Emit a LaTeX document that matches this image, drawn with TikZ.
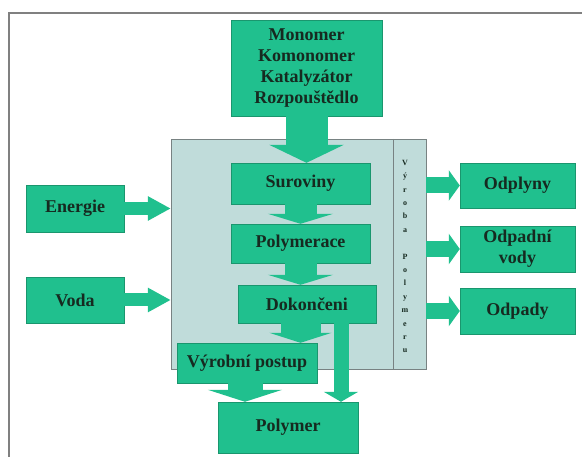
\documentclass[tikz,border=0pt]{standalone}
\usepackage{fontspec}
\setmainfont{Liberation Serif}
\usetikzlibrary{arrows.meta}

\definecolor{boxgreen}{RGB}{32,192,142}
\definecolor{boxedge}{RGB}{26,150,110}
\definecolor{procfill}{RGB}{192,220,218}
\definecolor{procedge}{RGB}{120,130,130}
\definecolor{labeltext}{RGB}{22,42,32}

\tikzset{
  gbox/.style={draw=boxedge,fill=boxgreen,inner sep=0pt,align=center,
    text=labeltext,font=\fontsize{18}{21}\selectfont\bfseries},
  flow/.style args={#1/#2/#3}{draw=boxgreen,line width=#1pt,
    -{Triangle[width=#2pt,length=#3pt]}}
}

\begin{document}
\begin{tikzpicture}[x=1pt,y=-1pt]
\useasboundingbox[fill=white] (0,0) rectangle (582,457);
\draw[gray,line width=2pt] (9,457) -- (9,13) -- (582,13);

\node[draw=procedge,fill=procfill,minimum width=255pt,minimum height=230pt] (proc) at (298.5,254) {};
\draw[procedge] (393,139) -- (393,369);
\node[align=center,text=labeltext,font=\fontsize{8}{13.4}\selectfont\bfseries] (vyroba) at (405,256.5)
  {V\\ý\\r\\o\\b\\a\\{}\\P\\o\\l\\y\\m\\e\\r\\u};

\node[gbox,minimum width=151pt,minimum height=96pt] (suro) at (306.5,68) {Monomer\\Komonomer\\Katalyzátor\\Rozpouštědlo};
\node[gbox,minimum width=139pt,minimum height=41pt] (surov) at (300.5,183.5) {Suroviny};
\node[gbox,minimum width=139pt,minimum height=39pt] (polym) at (300.5,243.5) {Polymerace};
\node[gbox,minimum width=138pt,minimum height=38pt] (dokon) at (307,304) {Dokončeni};
\node[gbox,minimum width=140pt,minimum height=40pt] (postup) at (247,363) {Výrobní postup};
\node[gbox,minimum width=140pt,minimum height=51pt] (produkt) at (288,427.5) {Polymer};

\node[gbox,minimum width=98pt,minimum height=47pt] (energie) at (75,208.5) {Energie};
\node[gbox,minimum width=98pt,minimum height=46pt] (voda) at (75,300) {Voda};

\node[gbox,minimum width=115pt,minimum height=45pt] (plyny) at (517.5,185.5) {Odplyny};
\node[gbox,minimum width=115pt,minimum height=46pt] (vody) at (517.5,249) {Odpadní\\vody};
\node[gbox,minimum width=115pt,minimum height=46pt] (odpady) at (517.5,311) {Odpady};

\draw[flow=42/74/18] (suro.south) -- (suro.south |- surov.north);
\draw[flow=32/65/10] (surov.south) -- (polym.north);
\draw[flow=32/65/10] (polym.south) -- (polym.south |- dokon.north);
\draw[flow=40/62/10] (dokon.south -| polym.south) -- (polym.south |- postup.north);
\draw[flow=15/34/10] ([xshift=34pt]dokon.south) -- ([xshift=34pt]dokon.south |- produkt.north);
\draw[flow=35/74/12] ([xshift=-2pt]postup.south) -- ([xshift=-2pt]postup.south |- produkt.north);

\draw[flow=13/23/23] (energie.east) -- (energie.east -| proc.west);
\draw[flow=13/23/23] (voda.east) -- (voda.east -| proc.west);

\draw[flow=16/30/11] (plyny.west -| proc.east) -- (plyny.west);
\draw[flow=16/30/11] (vody.west -| proc.east) -- (vody.west);
\draw[flow=16/30/11] (odpady.west -| proc.east) -- (odpady.west);
\end{tikzpicture}
\end{document}
